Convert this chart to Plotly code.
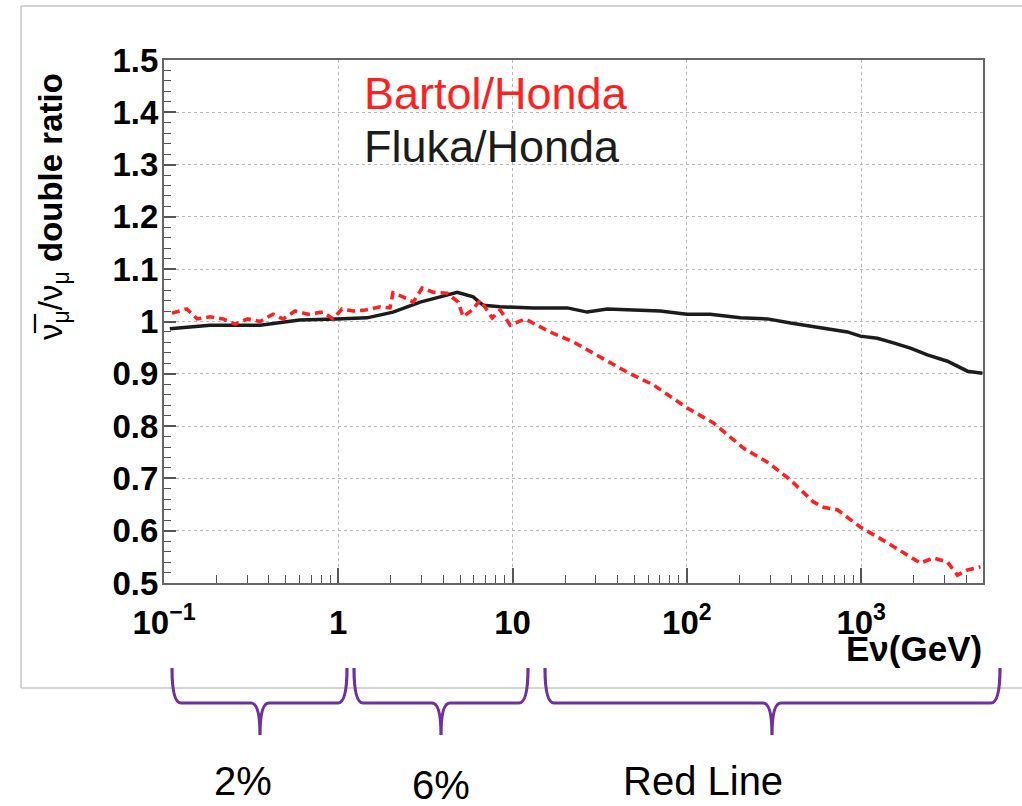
import plotly.graph_objects as go

# Fluka/Honda double ratio (solid black)
fluka_E = [0.108, 0.184, 0.356, 0.60, 0.98, 1.46, 2.06, 2.95, 3.84, 4.81, 5.94, 6.78,
           8.49, 13.1, 20.6, 26.8, 34.9, 70.3, 100, 136, 203, 290, 393, 583, 834,
           989, 1238, 1531, 1916, 2399, 3126, 4073, 4966]
fluka_ratio = [0.986, 0.993, 0.993, 1.003, 1.005, 1.007, 1.018, 1.037, 1.047, 1.056, 1.047, 1.031,
               1.028, 1.026, 1.026, 1.018, 1.024, 1.020, 1.014, 1.014, 1.007, 1.005, 0.997, 0.988, 0.980,
               0.972, 0.968, 0.959, 0.949, 0.936, 0.924, 0.905, 0.901]

# Bartol/Honda double ratio (dashed red)
bartol_E = [0.111, 0.135, 0.155, 0.184, 0.218, 0.256, 0.303, 0.356, 0.422, 0.482, 0.565, 0.671,
            0.818, 0.934, 1.05, 1.22, 1.43, 1.74, 1.98, 2.06, 2.42, 2.69, 3.03, 3.50, 4.21,
            4.88, 5.20, 5.86, 6.51, 6.96, 7.64, 8.49, 9.7, 11.8, 14.0, 16.4, 22.3, 31.8,
            45.5, 64.1, 100, 142, 211, 290, 393, 532, 607, 730, 989, 1413, 2188, 2596,
            3126, 3566, 4073, 4835]
bartol_ratio = [1.016, 1.024, 1.005, 1.009, 1.005, 0.995, 1.005, 1.000, 1.014, 1.005, 1.020, 1.014,
                1.018, 1.005, 1.024, 1.020, 1.022, 1.028, 1.026, 1.055, 1.045, 1.037, 1.064, 1.056, 1.054,
                1.037, 1.009, 1.022, 1.041, 1.028, 1.007, 1.022, 0.993, 1.005, 0.993, 0.980, 0.961, 0.932,
                0.903, 0.879, 0.835, 0.806, 0.758, 0.731, 0.697, 0.655, 0.645, 0.640, 0.607, 0.577, 0.538, 0.548,
                0.540, 0.515, 0.525, 0.531]

x_tickvals = [0.1, 1, 10, 100, 1000]
x_ticktext = ["10<sup>\u22121</sup>", "1", "10", "10<sup>2</sup>", "10<sup>3</sup>"]
x_minor = [m * 10 ** d for d in range(-1, 4) for m in range(2, 10) if m * 10 ** d < 5000]

bands = ["2%", "6%", "Red Line"]

W, H = 1022, 806
PL, PR, PT, PB = 164, 983, 60, 583


def px(x):
    return (x - PL) / (PR - PL)


def py(y):
    return (PB - y) / (PB - PT)


ROOT_FONT = "Liberation Sans, Arial, sans-serif"

fig = go.Figure()
fig.add_trace(go.Scatter(x=fluka_E, y=fluka_ratio, mode="lines", name="Fluka/Honda",
                         line=dict(color="#1c1c1c", width=3.5), showlegend=False))
fig.add_trace(go.Scatter(x=bartol_E, y=bartol_ratio, mode="lines", name="Bartol/Honda",
                         line=dict(color="#ff2020", width=3.6, dash="8px,5px"), showlegend=False))

fig.update_layout(
    width=W, height=H, autosize=False,
    margin=dict(l=PL, r=W - PR, t=PT, b=H - PB),
    paper_bgcolor="white", plot_bgcolor="white",
    font=dict(family=ROOT_FONT, color="black"),
)

fig.update_xaxes(
    type="log", range=[-1, 3.699],
    tickmode="array", tickvals=x_tickvals, ticktext=x_ticktext,
    tickfont=dict(size=33, weight="bold", family=ROOT_FONT),
    ticks="inside", ticklen=15, tickwidth=1.5, tickcolor="#555",
    ticklabelstandoff=9,
    minor=dict(tickmode="array", tickvals=x_minor, ticks="inside", ticklen=8,
               tickwidth=1.2, tickcolor="#555", showgrid=False),
    showgrid=True, gridcolor="#b8b8b8", griddash="dot", gridwidth=1.2,
    showline=True, linecolor="#666", linewidth=2, mirror=True,
    zeroline=False,
)
fig.update_yaxes(
    range=[0.5, 1.5], tickmode="linear", tick0=0.5, dtick=0.1,
    tickfont=dict(size=33, weight="bold", family=ROOT_FONT),
    ticks="inside", ticklen=12, tickwidth=1.5, tickcolor="#555",
    ticklabelstandoff=-3,
    minor=dict(dtick=0.02, ticks="inside", ticklen=7, tickwidth=1.2,
               tickcolor="#555", showgrid=False),
    showgrid=True, gridcolor="#b8b8b8", griddash="dot", gridwidth=1.2,
    showline=True, linecolor="#666", linewidth=2, mirror=True,
    zeroline=False,
)

# Legend entries as coloured text
fig.add_annotation(xref="paper", yref="paper", x=px(362), y=py(93), text="Bartol/Honda",
                   showarrow=False, xanchor="left", yanchor="middle",
                   font=dict(size=45, color="#ff2020", family=ROOT_FONT))
fig.add_annotation(xref="paper", yref="paper", x=px(362), y=py(146), text="Fluka/Honda",
                   showarrow=False, xanchor="left", yanchor="middle",
                   font=dict(size=45, color="#1c1c1c", family=ROOT_FONT))

# Axis titles
fig.add_annotation(xref="paper", yref="paper", x=px(53), y=py(207),
                   text="\u03bd\u0305<sub>\u03bc</sub>/\u03bd<sub>\u03bc</sub> <b>double ratio</b>",
                   textangle=-90, showarrow=False, xanchor="center", yanchor="middle",
                   font=dict(size=33, color="black", family=ROOT_FONT))
fig.add_annotation(xref="paper", yref="paper", x=px(984), y=py(648),
                   text="<b>E\u03bd(GeV)</b>", showarrow=False, xanchor="right", yanchor="middle",
                   font=dict(size=35, color="black", family=ROOT_FONT))

# Outer frame around the chart
frame = dict(type="line", xref="paper", yref="paper", line=dict(color="#c4c4c4", width=1.5))
fig.add_shape(x0=px(21), x1=px(1022), y0=py(6), y1=py(6), **frame)
fig.add_shape(x0=px(21), x1=px(21), y0=py(6), y1=py(688), **frame)
fig.add_shape(x0=px(21), x1=px(1022), y0=py(688), y1=py(688), **frame)


def brace(x0, x1, xc, ytop=668, ymid=703, ybot=735, r=9):
    pts = [
        f"M {px(x0)},{py(ytop)}",
        f"Q {px(x0)},{py(ymid)} {px(x0 + r)},{py(ymid)}",
        f"L {px(xc - r)},{py(ymid)}",
        f"Q {px(xc)},{py(ymid)} {px(xc)},{py(ybot)}",
        f"Q {px(xc)},{py(ymid)} {px(xc + r)},{py(ymid)}",
        f"L {px(x1 - r)},{py(ymid)}",
        f"Q {px(x1)},{py(ymid)} {px(x1)},{py(ytop)}",
    ]
    return " ".join(pts)


brace_spans = [(172, 347, 260), (354, 528, 441), (545, 1000, 772)]
label_pos = [(243, 781), (441, 785), (703, 781)]
for (x0, x1, xc), (lx, ly), txt in zip(brace_spans, label_pos, bands):
    fig.add_shape(type="path", xref="paper", yref="paper", path=brace(x0, x1, xc),
                  line=dict(color="#7030a0", width=3.2))
    fig.add_annotation(xref="paper", yref="paper", x=px(lx), y=py(ly), text=txt,
                       showarrow=False, xanchor="center", yanchor="middle",
                       font=dict(size=40, color="black",
                                 family="Liberation Sans Narrow, Arial Narrow, sans-serif"))

fig.write_html("out.html")
